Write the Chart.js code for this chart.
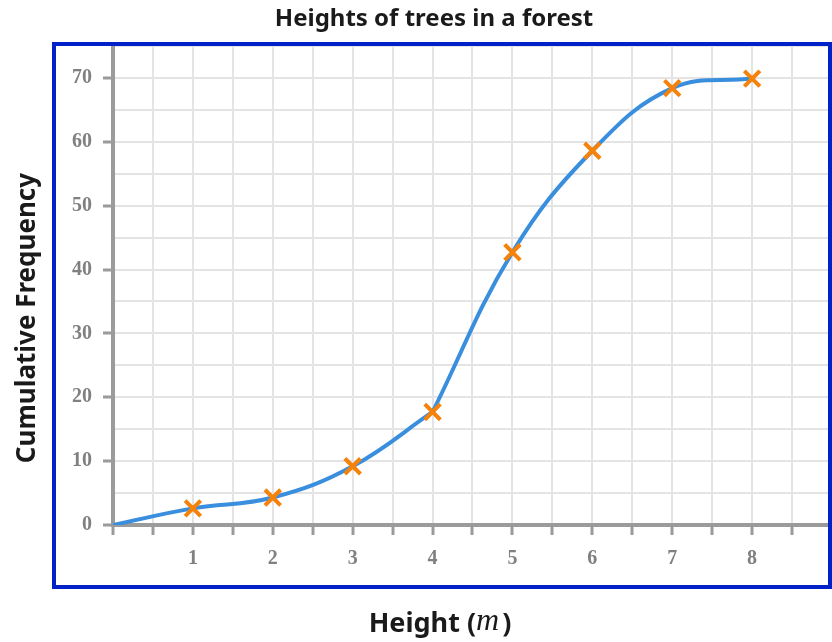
<!DOCTYPE html>
<html>
<head>
<meta charset="utf-8">
<title>Heights of trees in a forest</title>
<script src="https://cdn.jsdelivr.net/npm/chart.js@4.4.0/dist/chart.umd.min.js"></script>
<style>
  html, body { margin: 0; padding: 0; background: #fff; }
</style>
</head>
<body>
<canvas id="chart" width="832" height="642"></canvas>
<script>
// Data
const heights = [0, 1, 2, 3, 4, 5, 6, 7, 8];
const cumulativeFrequency = [0, 2.6, 4.3, 9.2, 17.7, 42.7, 58.6, 68.4, 69.9];
const xRange = [0, 8.95];
const yRange = [0, 75];

const chartTitle = "Heights of trees in a forest";
const yTitle = "Cumulative Frequency";
const xTitleParts = ["Height (", "m", ")"];

// The curve in the picture has a corner at this point
const breakIndex = 4;

const AXIS_GREY = "#9b9b9b";
const GRID_GREY = "#e4e4e4";
const LABEL_GREY = "#808080";
const FRAME_BLUE = "#0022c8";
const TEXT_DARK = "#1a1a1a";
const LINE_BLUE = "#3a8ede";
const CROSS_ORANGE = "#f5820a";

const tickFont = { family: '"Liberation Serif", "Times New Roman", serif', size: 20, weight: "bold" };

/**
 * Draws the blue frame and the title texts around the plot
 */
const framePlugin = {
  id: "frame",
  afterDraw(chart) {
    const ctx = chart.ctx;
    ctx.save();

    // Blue frame
    ctx.strokeStyle = FRAME_BLUE;
    ctx.lineWidth = 4;
    ctx.strokeRect(54, 44, 776, 543);

    ctx.fillStyle = TEXT_DARK;
    ctx.textBaseline = "middle";
    ctx.textAlign = "center";

    // Main title
    ctx.font = 'bold 24px "Noto Sans", sans-serif';
    ctx.fillText(chartTitle, 434, 19);

    // Y axis title
    ctx.save();
    ctx.translate(28, 318);
    ctx.rotate(-Math.PI / 2);
    ctx.font = 'bold 26px "Noto Sans", sans-serif';
    ctx.fillText(yTitle, 0, 0);
    ctx.restore();

    // X axis title, with italic unit
    const fonts = [
      'bold 27px "Noto Sans", sans-serif',
      'italic 32px "Liberation Serif", serif',
      'bold 27px "Noto Sans", sans-serif',
    ];
    const widths = xTitleParts.map((t, i) => {
      ctx.font = fonts[i];
      return ctx.measureText(t).width;
    });
    const total = widths.reduce((a, b) => a + b, 0) + 3;
    let x = 440 - total / 2;
    ctx.textAlign = "left";
    xTitleParts.forEach((t, i) => {
      ctx.font = fonts[i];
      ctx.fillText(t, x, i === 1 ? 622 : 624);
      x += widths[i] + (i === 1 ? 3 : 0);
    });

    ctx.restore();
  },
};

const points = heights.map((h, i) => ({ x: h, y: cumulativeFrequency[i] }));

const curveStyle = {
  borderColor: LINE_BLUE,
  borderWidth: 4,
  tension: 0.4,
  fill: false,
  pointRadius: 0,
};

new Chart(document.getElementById("chart"), {
  type: "line",
  data: {
    datasets: [
      {
        // crosses (first so they sit on top of the curve)
        data: points.slice(1),
        showLine: false,
        pointStyle: "crossRot",
        pointRadius: 11,
        pointBorderColor: CROSS_ORANGE,
        pointBackgroundColor: CROSS_ORANGE,
        pointBorderWidth: 4,
      },
      { ...curveStyle, data: points.slice(0, breakIndex + 1) },
      { ...curveStyle, data: points.slice(breakIndex) },
    ],
  },
  options: {
    responsive: false,
    animation: false,
    layout: {
      autoPadding: false,
      padding: { top: 46, right: 4, left: 0, bottom: 0 },
    },
    plugins: {
      legend: { display: false },
      tooltip: { enabled: false },
      title: { display: false },
    },
    scales: {
      x: {
        type: "linear",
        min: xRange[0],
        max: xRange[1],
        afterFit(scale) {
          scale.height = 117;
          scale.paddingLeft = 0;
          scale.paddingRight = 0;
        },
        border: { color: AXIS_GREY, width: 4 },
        grid: {
          color: GRID_GREY,
          lineWidth: 2,
          tickColor: AXIS_GREY,
          tickWidth: 3,
          tickLength: 10,
        },
        ticks: {
          stepSize: 0.5,
          includeBounds: false,
          autoSkip: false,
          maxRotation: 0,
          padding: 12,
          color: LABEL_GREY,
          font: tickFont,
          callback: (v) => (v > 0 && Number.isInteger(v) ? v : ""),
        },
      },
      y: {
        min: yRange[0],
        max: yRange[1],
        afterFit(scale) {
          scale.width = 113;
          scale.paddingTop = 0;
          scale.paddingBottom = 0;
        },
        border: { color: AXIS_GREY, width: 4 },
        grid: {
          color: GRID_GREY,
          lineWidth: 2,
          tickColor: (ctx) =>
            ctx.tick && ctx.tick.value % 10 === 0 ? AXIS_GREY : "rgba(0,0,0,0)",
          tickWidth: 3,
          tickLength: 10,
        },
        ticks: {
          stepSize: 5,
          autoSkip: false,
          padding: 11,
          color: LABEL_GREY,
          font: tickFont,
          callback: (v) => (v % 10 === 0 ? v : ""),
        },
      },
    },
  },
  plugins: [framePlugin],
});
</script>
</body>
</html>
